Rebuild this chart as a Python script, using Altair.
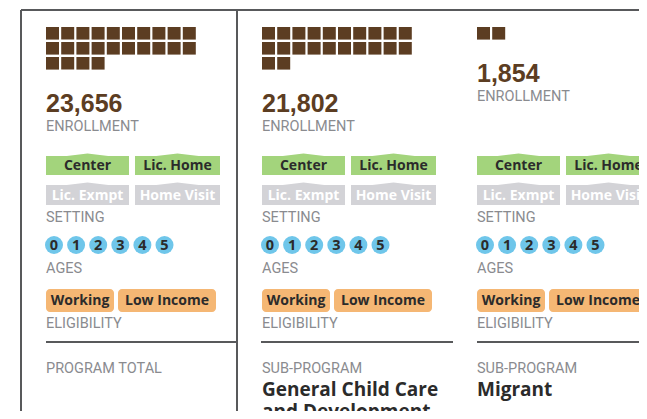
import altair as alt
import pandas as pd

# ---------------- data ----------------
column_labels = ["PROGRAM TOTAL", "SUB-PROGRAM", "SUB-PROGRAM"]
program_names = ["", "General Child Care\nand Development", "Migrant"]
enrollment = [23656, 21802, 1854]
setting_names = ["Center", "Lic. Home", "Lic. Exmpt", "Home Visit"]
setting_offered = [[1, 1, 0, 0], [1, 1, 0, 0], [1, 1, 0, 0]]
age_values = [0, 1, 2, 3, 4, 5]
eligibility_names = ["Working", "Low Income"]
PER_SQUARE = 1000  # one square per 1,000 enrolled

# ---------------- layout (page pixels) ----------------
COL_X = [46, 262, 477]
SQ_TOP, SQ_PITCH_X, SQ_PITCH_Y, SQ_W, SQ_H, SQ_PER_ROW = 27, 15.2, 15, 13, 12.6, 10
BADGE_DX = [0, 89]
BADGE_W = [83, 85]
BADGE_ROW_TOP = [156, 185]
BADGE_ROW_BOT = [175, 205]
AGE_CY, AGE_PITCH, AGE_D = 245, 22.1, 18
ELIG_DX = [0, 72]
ELIG_W = [68, 98]
ELIG_TOP, ELIG_BOT = 289, 312

BROWN = "#5c3d22"
GREEN = "#a3d47c"
GREY_BADGE = "#d3d3d7"
BLUE = "#6fc6ea"
ORANGE = "#f5b774"
LABEL = "#8a8b8f"
DARK = "#2b2b2b"
LINE = "#58595b"

LABEL_FONT = "Roboto"
BADGE_FONT = "Open Sans"

W, H = 631, 403
xs = alt.Scale(domain=[8, 8 + W], range=[0, W], nice=False, zero=False)
ys = alt.Scale(domain=[8, 8 + H], range=[0, H], nice=False, zero=False)


def X(f):
    return alt.X(f, type="quantitative", scale=xs, axis=None)


def Y(f):
    return alt.Y(f, type="quantitative", scale=ys, axis=None)


# squares
sq, nums, labels_rows = [], [], []
for c, e in enumerate(enrollment):
    n = round(e / PER_SQUARE)
    for k in range(n):
        r, i = divmod(k, SQ_PER_ROW)
        x = COL_X[c] + i * SQ_PITCH_X
        y = SQ_TOP + r * SQ_PITCH_Y
        sq.append({"x": x, "x2": x + SQ_W, "y": y, "y2": y + SQ_H})
    rows = (n + SQ_PER_ROW - 1) // SQ_PER_ROW
    base = SQ_TOP + (rows - 1) * SQ_PITCH_Y + SQ_H + 42.5
    nums.append({"x": COL_X[c], "y": base, "t": f"{e:,}"})
    labels_rows.append({"x": COL_X[c], "y": base + 19, "t": "ENROLLMENT"})
    labels_rows.append({"x": COL_X[c], "y": 222, "t": "SETTING"})
    labels_rows.append({"x": COL_X[c], "y": 273, "t": "AGES"})
    labels_rows.append({"x": COL_X[c], "y": 328, "t": "ELIGIBILITY"})
    labels_rows.append({"x": COL_X[c], "y": 373, "t": column_labels[c]})

sq_df = pd.DataFrame(sq)
num_df = pd.DataFrame(nums)
lab_df = pd.DataFrame(labels_rows)

# setting badges
badges = []
for c in range(len(enrollment)):
    for j, name in enumerate(setting_names):
        r, k = divmod(j, 2)
        x = COL_X[c] + BADGE_DX[k]
        w = BADGE_W[k]
        on = setting_offered[c][j]
        badges.append({
            "x": x, "x2": x + w, "cx": x + w / 2,
            "y": BADGE_ROW_TOP[r], "y2": BADGE_ROW_BOT[r],
            "ty": BADGE_ROW_BOT[r] - 5, "t": name,
            "fill": GREEN if on else GREY_BADGE,
            "tc": DARK if on else "#ffffff",
            "size": w * w,
        })
bd = pd.DataFrame(badges)

# ages
ag = []
for c in range(len(enrollment)):
    for i, a in enumerate(age_values):
        ag.append({"cx": COL_X[c] + AGE_D / 2 - 1 + i * AGE_PITCH, "cy": AGE_CY, "t": str(a)})
ag_df = pd.DataFrame(ag)

# eligibility
el = []
for c in range(len(enrollment)):
    for j, name in enumerate(eligibility_names):
        x = COL_X[c] + ELIG_DX[j]
        el.append({"x": x, "x2": x + ELIG_W[j], "cx": x + ELIG_W[j] / 2,
                   "y": ELIG_TOP, "y2": ELIG_BOT, "ty": ELIG_BOT - 7, "t": name})
el_df = pd.DataFrame(el)

# program names
pn_df = pd.DataFrame([{"x": COL_X[c], "y": 396, "t": program_names[c]}
                      for c in range(len(enrollment)) if program_names[c]])

# frame lines
frame_df = pd.DataFrame([
    {"x": 21, "x2": 660, "y": 10, "y2": 10},
    {"x": 21, "x2": 21, "y": 10, "y2": 425},
    {"x": 237, "x2": 237, "y": 10, "y2": 425},
    {"x": 46, "x2": 237, "y": 342, "y2": 342},
    {"x": 261, "x2": 453, "y": 342, "y2": 342},
    {"x": 477, "x2": 660, "y": 342, "y2": 342},
])

layers = []
layers.append(alt.Chart(frame_df).mark_rule(color=LINE, strokeWidth=2).encode(
    x=X("x"), x2="x2", y=Y("y"), y2="y2"))
layers.append(alt.Chart(sq_df).mark_rect(color=BROWN).encode(
    x=X("x"), x2="x2", y=Y("y"), y2="y2"))
layers.append(alt.Chart(num_df).mark_text(
    align="left", baseline="alphabetic", font="Liberation Sans", fontSize=25,
    fontWeight="bold", color=BROWN).encode(x=X("x"), y=Y("y"), text="t"))
layers.append(alt.Chart(lab_df).mark_text(
    align="left", baseline="alphabetic", font=LABEL_FONT, fontSize=14.5,
    color=LABEL).encode(x=X("x"), y=Y("y"), text="t"))
layers.append(alt.Chart(bd).mark_rect().encode(
    x=X("x"), x2="x2", y=Y("y"), y2="y2", fill=alt.Fill("fill:N", scale=None)))
layers.append(alt.Chart(bd).mark_point(
    filled=True, shape="M-1,0.06L0,-0.06L1,0.06Z", opacity=1, strokeWidth=0).encode(
    x=X("cx"), y=Y("y"), fill=alt.Fill("fill:N", scale=None),
    size=alt.Size("size:Q", scale=None)))
layers.append(alt.Chart(bd).mark_text(
    align="center", baseline="alphabetic", font=BADGE_FONT, fontSize=14,
    fontWeight="bold").encode(
    x=X("cx"), y=Y("ty"), text="t", color=alt.Color("tc:N", scale=None)))
layers.append(alt.Chart(ag_df).mark_circle(color=BLUE, opacity=1, size=AGE_D ** 2).encode(
    x=X("cx"), y=Y("cy")))
layers.append(alt.Chart(ag_df).mark_text(
    align="center", baseline="middle", font=BADGE_FONT, fontSize=14.5,
    fontWeight="bold", color=DARK, dy=0.5).encode(x=X("cx"), y=Y("cy"), text="t"))
layers.append(alt.Chart(el_df).mark_rect(color=ORANGE, cornerRadius=4).encode(
    x=X("x"), x2="x2", y=Y("y"), y2="y2"))
layers.append(alt.Chart(el_df).mark_text(
    align="center", baseline="alphabetic", font=BADGE_FONT, fontSize=14,
    fontWeight="bold", color=DARK).encode(x=X("cx"), y=Y("ty"), text="t"))
layers.append(alt.Chart(pn_df).mark_text(
    align="left", baseline="alphabetic", font=BADGE_FONT, fontSize=19,
    fontWeight="bold", color=DARK, lineBreak="\n", lineHeight=22).encode(
    x=X("x"), y=Y("y"), text="t"))

chart = alt.layer(*layers).properties(
    width=W, height=H,
    autosize=alt.AutoSizeParams(type="none"),
    padding=0,
).configure_view(stroke=None)

chart.save("out.html", embed_options={"renderer": "svg", "actions": False})
